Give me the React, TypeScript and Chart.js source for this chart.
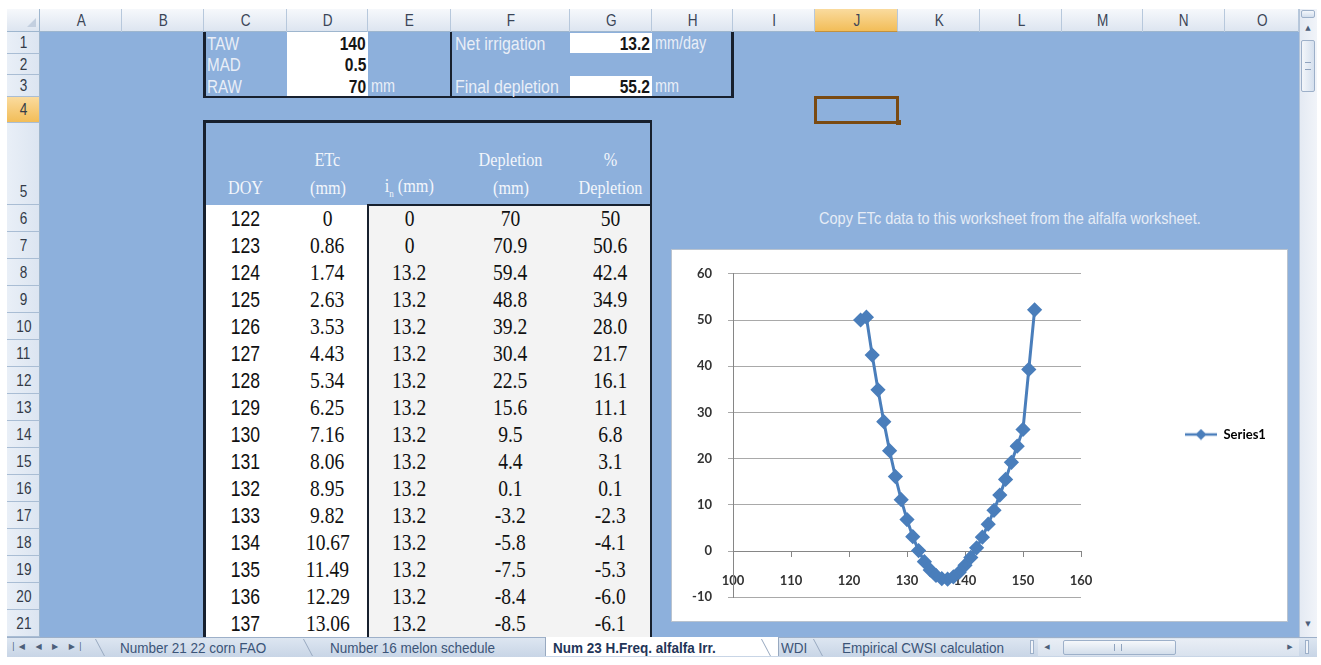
import React, { useEffect, useRef } from "react";
import { Chart, registerables } from "chart.js";

Chart.register(...registerables);

// ---------------- Chart data ----------------
const chartDoy = [122, 123, 124, 125, 126, 127, 128, 129, 130, 131, 132, 133, 134, 135, 136, 137,
  138, 139, 140, 141, 142, 143, 144, 145, 146, 147, 148, 149, 150, 151, 152];
const chartPctDepletion = [50.0, 50.6, 42.4, 34.9, 28.0, 21.7, 16.1, 11.1, 6.8, 3.1, 0.1, -2.3, -4.1, -5.3, -6.0, -6.1,
  -5.6, -4.6, -3.1, -1.4, 0.7, 3.0, 5.8, 8.8, 12.1, 15.5, 19.2, 22.7, 26.3, 39.3, 52.2];
const seriesName = "Series1";
const xMin = 100;
const xMax = 160;
const xStep = 10;
const yMin = -10;
const yMax = 60;
const yStep = 10;

// ---------------- Sheet data ----------------
const tableDoy = ["122", "123", "124", "125", "126", "127", "128", "129", "130", "131", "132", "133", "134", "135", "136", "137"];
const tableEtc = ["0", "0.86", "1.74", "2.63", "3.53", "4.43", "5.34", "6.25", "7.16", "8.06", "8.95", "9.82", "10.67", "11.49", "12.29", "13.06"];
const tableIn = ["0", "0", "13.2", "13.2", "13.2", "13.2", "13.2", "13.2", "13.2", "13.2", "13.2", "13.2", "13.2", "13.2", "13.2", "13.2"];
const tableDepletion = ["70", "70.9", "59.4", "48.8", "39.2", "30.4", "22.5", "15.6", "9.5", "4.4", "0.1", "-3.2", "-5.8", "-7.5", "-8.4", "-8.5"];
const tablePct = ["50", "50.6", "42.4", "34.9", "28.0", "21.7", "16.1", "11.1", "6.8", "3.1", "0.1", "-2.3", "-4.1", "-5.3", "-6.0", "-6.1"];
const paramLabels = ["TAW", "MAD", "RAW"];
const paramValues = ["140", "0.5", "70"];
const columnLetters = ["A", "B", "C", "D", "E", "F", "G", "H", "I", "J", "K", "L", "M", "N", "O"];
const sheetTabs = ["Number 21 22 corn FAO", "Number 16 melon schedule", "Num 23 H.Freq. alfalfa Irr.", "WDI", "Empirical CWSI calculation"];

// ---------------- Layout ----------------
const COL_X = [40, 122, 204, 287, 368, 451, 570, 652, 733, 815, 898, 980, 1062, 1143, 1225, 1299];
const ROW_Y = [32, 54, 75, 97, 123, 205];
for (let i = 1; i <= 16; i++) ROW_Y.push(205 + 27 * i);

const SANS = '"Liberation Sans", Arial, sans-serif';
const SERIF = '"Liberation Serif", "Times New Roman", serif';
const SHEET_BLUE = "#8DB0DC";
const LIGHT_TXT = "#E9EEF7";
const DARK_LINE = "#17202E";

type TxtProps = {
  x: number; y: number; w: number; h: number;
  align?: "left" | "right" | "center";
  valign?: "center" | "end";
  sx?: number;
  style?: React.CSSProperties;
  children?: React.ReactNode;
};

function Txt({ x, y, w, h, align = "left", valign = "center", sx = 0.84, style, children }: TxtProps) {
  const jc = align === "left" ? "flex-start" : align === "right" ? "flex-end" : "center";
  const origin = align === "left" ? "left center" : align === "right" ? "right center" : "center center";
  return (
    <div style={{ position: "absolute", left: x, top: y, width: w, height: h, display: "flex",
      alignItems: valign === "end" ? "flex-end" : "center", justifyContent: jc, whiteSpace: "nowrap" }}>
      <span style={{ display: "inline-block", transform: `scaleX(${sx})`, transformOrigin: origin, lineHeight: 1, ...style }}>{children}</span>
    </div>
  );
}

function Box({ x, y, w, h, style }: { x: number; y: number; w: number; h: number; style?: React.CSSProperties }) {
  return <div style={{ position: "absolute", left: x, top: y, width: w, height: h, boxSizing: "border-box", ...style }} />;
}

function makeLegendMarker(color: string): HTMLCanvasElement {
  const c = document.createElement("canvas");
  c.width = 32; c.height = 12;
  const g = c.getContext("2d")!;
  g.strokeStyle = color; g.lineWidth = 2.5;
  g.beginPath(); g.moveTo(0, 6); g.lineTo(32, 6); g.stroke();
  g.fillStyle = color;
  g.beginPath(); g.moveTo(16, 0.5); g.lineTo(21.5, 6); g.lineTo(16, 11.5); g.lineTo(10.5, 6); g.closePath(); g.fill();
  return c;
}

function DepletionChart() {
  const ref = useRef<HTMLCanvasElement>(null);
  useEffect(() => {
    if (!ref.current) return;
    const blue = "#4A7EBB";
    const marker = makeLegendMarker(blue);
    const tickFont = { family: "Lato, 'Open Sans', sans-serif", size: 13, weight: "bold" as const };
    const chart = new Chart(ref.current, {
      type: "scatter",
      data: {
        datasets: [{
          label: seriesName,
          data: chartDoy.map((d, i) => ({ x: d, y: chartPctDepletion[i] })),
          showLine: true,
          borderColor: blue,
          backgroundColor: blue,
          borderWidth: 3,
          pointStyle: "rectRot",
          pointRadius: 5.5,
          pointBackgroundColor: blue,
          pointBorderColor: blue,
          tension: 0,
        }],
      },
      options: {
        animation: false,
        responsive: false,
        maintainAspectRatio: false,
        devicePixelRatio: 1,
        layout: { padding: { left: 0, top: 18, right: 16, bottom: 20 } },
        plugins: {
          tooltip: { enabled: false },
          title: { display: false },
          legend: {
            position: "right",
            maxWidth: 190,
            labels: {
              padding: 104,
              usePointStyle: true,
              pointStyleWidth: 32,
              color: "#333333",
              font: { family: "Lato, 'Open Sans', sans-serif", size: 13, weight: "bold" },
              generateLabels: () => [{
                text: seriesName, pointStyle: marker as any, fillStyle: blue, strokeStyle: blue,
                lineWidth: 0, hidden: false, datasetIndex: 0,
              } as any],
            },
          },
        },
        scales: {
          x: {
            type: "linear",
            position: { y: 0 } as any,
            min: xMin, max: xMax,
            ticks: { stepSize: xStep, color: "#333333", font: tickFont, padding: 17, maxRotation: 0 },
            grid: { drawOnChartArea: false, drawTicks: true, tickLength: 5, color: "#868686" },
            border: { display: true, color: "#868686", width: 1 },
            afterFit: (s: any) => { s.height = 0; },
          },
          y: {
            type: "linear",
            min: yMin, max: yMax,
            ticks: { stepSize: yStep, color: "#333333", font: tickFont, padding: 16 },
            grid: { color: "#A9A9A9", lineWidth: 1, tickLength: 5 },
            border: { display: true, color: "#868686", width: 1 },
            afterFit: (s: any) => { s.width = 61; },
          },
        },
      },
    });
    return () => chart.destroy();
  }, []);
  return (
    <canvas ref={ref} width={615} height={371}
      style={{ position: "absolute", left: 672, top: 250, width: 615, height: 371 }} />
  );
}

export default function App() {
  const headerGrad = "linear-gradient(#F6F8FB, #DDE5F0)";
  const orangeGrad = "linear-gradient(#FADB9E, #F2BD58)";
  const rowHeaderBg = "linear-gradient(90deg, #E9EFF7, #DCE5F1)";
  const dataRowsTop = ROW_Y[5];

  return (
    <div style={{ position: "fixed", left: 0, top: 0, width: 1321, height: 665, background: "#FFFFFF", overflow: "hidden", fontFamily: SANS }}>
      {/* sheet background */}
      <Box x={7} y={9} w={1292} h={628} style={{ background: SHEET_BLUE }} />

      {/* column header bar */}
      <Box x={7} y={9} w={1292} h={23} style={{ background: headerGrad, borderBottom: "1px solid #9EB6CE" }} />
      <Box x={7} y={9} w={33} h={23} style={{ background: headerGrad, borderRight: "1px solid #9EB6CE", borderBottom: "1px solid #9EB6CE" }} />
      <div style={{ position: "absolute", left: 27, top: 18, width: 0, height: 0, borderLeft: "9px solid transparent", borderBottom: "9px solid #C3CFDF" }} />
      {columnLetters.map((l, i) => (
        <React.Fragment key={l}>
          <Box x={COL_X[i]} y={9} w={COL_X[i + 1] - COL_X[i]} h={23}
            style={{ background: l === "J" ? orangeGrad : "transparent", borderRight: "1px solid #B7C8DC", borderBottom: l === "J" ? "1px solid #C2913E" : undefined }} />
          <Txt x={COL_X[i]} y={9} w={COL_X[i + 1] - COL_X[i]} h={23} align="center" sx={0.85}
            style={{ fontSize: 16, color: "#3A4557" }}>{l}</Txt>
        </React.Fragment>
      ))}

      {/* row headers */}
      {ROW_Y.slice(0, 21).map((y, i) => {
        const h = ROW_Y[i + 1] - y;
        const n = i + 1;
        return (
          <React.Fragment key={n}>
            <Box x={7} y={y} w={33} h={h}
              style={{ background: n === 4 ? orangeGrad : rowHeaderBg, borderRight: "1px solid #9EB6CE", borderBottom: "1px solid #A9BDD4" }} />
            <Txt x={7} y={y} w={33} h={n === 5 ? h - 5 : h} align="center" valign={n === 5 ? "end" : "center"} sx={0.85}
              style={{ fontSize: 16, color: "#333B48" }}>{String(n)}</Txt>
          </React.Fragment>
        );
      })}

      {/* top parameter boxes */}
      <Box x={287} y={32} w={81} h={64} style={{ background: "#FFFFFF" }} />
      <Box x={570} y={33} w={82} h={20} style={{ background: "#FFFFFF" }} />
      <Box x={570} y={76} w={82} h={20} style={{ background: "#FFFFFF" }} />
      <Box x={203} y={32} w={2.5} h={66} style={{ background: DARK_LINE }} />
      <Box x={449.5} y={32} w={2.5} h={66} style={{ background: DARK_LINE }} />
      <Box x={731} y={32} w={2.5} h={66} style={{ background: DARK_LINE }} />
      <Box x={203} y={95.5} w={530.5} h={2.5} style={{ background: DARK_LINE }} />
      {paramLabels.map((lab, i) => (
        <React.Fragment key={lab}>
          <Txt x={207} y={ROW_Y[i]} w={80} h={ROW_Y[i + 1] - ROW_Y[i]} sx={0.8} style={{ fontSize: 19, color: LIGHT_TXT }}>{lab}</Txt>
          <Txt x={287} y={ROW_Y[i]} w={79} h={ROW_Y[i + 1] - ROW_Y[i]} align="right" sx={0.82} style={{ fontSize: 19, color: "#151515", fontWeight: "bold" }}>{paramValues[i]}</Txt>
        </React.Fragment>
      ))}
      <Txt x={371} y={ROW_Y[2]} w={60} h={22} sx={0.8} style={{ fontSize: 18, color: LIGHT_TXT }}>mm</Txt>
      <Txt x={455} y={ROW_Y[0]} w={115} h={22} sx={0.84} style={{ fontSize: 19, color: LIGHT_TXT }}>Net irrigation</Txt>
      <Txt x={570} y={ROW_Y[0]} w={80} h={22} align="right" sx={0.82} style={{ fontSize: 19, color: "#151515", fontWeight: "bold" }}>13.2</Txt>
      <Txt x={655} y={ROW_Y[0]} w={75} h={22} sx={0.8} style={{ fontSize: 18, color: LIGHT_TXT }}>mm/day</Txt>
      <Txt x={455} y={ROW_Y[2]} w={115} h={22} sx={0.84} style={{ fontSize: 19, color: LIGHT_TXT }}>Final depletion</Txt>
      <Txt x={570} y={ROW_Y[2]} w={80} h={22} align="right" sx={0.82} style={{ fontSize: 19, color: "#151515", fontWeight: "bold" }}>55.2</Txt>
      <Txt x={655} y={ROW_Y[2]} w={75} h={22} sx={0.8} style={{ fontSize: 18, color: LIGHT_TXT }}>mm</Txt>

      {/* main table */}
      <Box x={205} y={dataRowsTop} w={163} h={432} style={{ background: "#FFFFFF" }} />
      <Box x={368} y={dataRowsTop} w={283} h={432} style={{ background: "#F3F3F3" }} />
      <Box x={203} y={120} w={449} h={2.5} style={{ background: DARK_LINE }} />
      <Box x={203} y={120} w={2.5} h={517} style={{ background: DARK_LINE }} />
      <Box x={649.5} y={120} w={2.5} h={517} style={{ background: DARK_LINE }} />
      <Box x={366.5} y={dataRowsTop - 1} w={2.5} h={433} style={{ background: DARK_LINE }} />
      <Box x={366.5} y={dataRowsTop - 1.5} w={285} h={2.5} style={{ background: DARK_LINE }} />

      {/* header row 5 */}
      {[
        { x: COL_X[2], w: COL_X[3] - COL_X[2], l1: "", l2: "DOY" },
        { x: COL_X[3], w: COL_X[4] - COL_X[3], l1: "ETc", l2: "(mm)" },
        { x: COL_X[4], w: COL_X[5] - COL_X[4], l1: "", l2: "in" },
        { x: COL_X[5], w: COL_X[6] - COL_X[5], l1: "Depletion", l2: "(mm)" },
        { x: COL_X[6], w: 80, l1: "%", l2: "Depletion" },
      ].map((c, i) => (
        <React.Fragment key={i}>
          {c.l1 ? <Txt x={c.x} y={148} w={c.w} h={24} align="center" sx={0.9} style={{ fontFamily: SERIF, fontSize: 18, color: "#F3F6FB" }}>{c.l1}</Txt> : null}
          <Txt x={c.x} y={176} w={c.w} h={24} align="center" sx={0.9} style={{ fontFamily: SERIF, fontSize: 18, color: "#F3F6FB" }}>
            {c.l2 === "in" ? <span>i<sub style={{ fontSize: 10 }}>n</sub> (mm)</span> : c.l2}
          </Txt>
        </React.Fragment>
      ))}

      {/* data rows */}
      {tableDoy.map((d, i) => {
        const y = ROW_Y[5 + i];
        const h = 27;
        const cells = [tableEtc[i], tableIn[i], tableDepletion[i], tablePct[i]];
        return (
          <React.Fragment key={d}>
            <Txt x={COL_X[2]} y={y} w={COL_X[3] - COL_X[2]} h={h} align="center" sx={0.8} style={{ fontSize: 22, color: "#111" }}>{d}</Txt>
            {cells.map((v, j) => (
              <Txt key={j} x={COL_X[3 + j]} y={y} w={(j === 3 ? 651 : COL_X[4 + j]) - COL_X[3 + j]} h={h} align="center" sx={0.85}
                style={{ fontFamily: SERIF, fontSize: 23, color: "#111" }}>{v}</Txt>
            ))}
          </React.Fragment>
        );
      })}

      {/* selected cell J4 */}
      <Box x={814} y={96} w={85} h={28} style={{ border: "3px solid #7A4A12" }} />
      <Box x={896} y={120} w={5} h={5} style={{ background: "#7A4A12" }} />

      {/* note text */}
      <Txt x={819} y={ROW_Y[5]} w={470} h={27} sx={0.88} style={{ fontSize: 16.5, color: "#E6ECF6" }}>
        Copy ETc data to this worksheet from the alfalfa worksheet.
      </Txt>

      {/* chart */}
      <Box x={671} y={249} w={617} h={373} style={{ background: "#FFFFFF", border: "1px solid #B9C3CF" }} />
      <DepletionChart />

      {/* vertical scrollbar */}
      <Box x={1299} y={9} w={18} h={628} style={{ background: "linear-gradient(90deg,#E4EAF3,#F1F4F9)", borderLeft: "1px solid #B5C5D9" }} />
      <Box x={1301} y={10} w={14} h={8} style={{ background: "linear-gradient(#F4F7FB,#D3DEEC)", border: "1px solid #9DB0C9", borderRadius: 2 }} />
      <Txt x={1299} y={22} w={18} h={12} align="center" sx={1} style={{ fontSize: 7, color: "#4C5F7A", fontFamily: "DejaVu Sans" }}>▲</Txt>
      <Box x={1301} y={40} w={14} h={52} style={{ background: "linear-gradient(90deg,#F3F6FA,#D5E0EE)", border: "1px solid #9DB0C9", borderRadius: 2 }} />
      <Box x={1305} y={62} w={6} h={8} style={{ borderTop: "1px solid #8FA3BE", borderBottom: "1px solid #8FA3BE" }} />
      <Txt x={1299} y={618} w={18} h={12} align="center" sx={1} style={{ fontSize: 7, color: "#4C5F7A", fontFamily: "DejaVu Sans" }}>▼</Txt>

      {/* sheet tab bar */}
      <Box x={7} y={637} w={1310} h={20} style={{ background: "linear-gradient(#DDE6F1,#C8D5E6)", borderTop: "1px solid #9DB0C9" }} />
      <Txt x={12} y={638} w={70} h={18} sx={1} style={{ fontSize: 8, color: "#4C5F7A", fontFamily: "DejaVu Sans", letterSpacing: 4 }}>|◀ ◀ ▶ ▶|</Txt>
      <div style={{ position: "absolute", left: 104, top: 639, width: 16, height: 17, borderLeft: "1px solid #98A9C0", transform: "skewX(28deg)", transformOrigin: "bottom left" }} />
      <div style={{ position: "absolute", left: 312, top: 639, width: 16, height: 17, borderLeft: "1px solid #98A9C0", transform: "skewX(28deg)", transformOrigin: "bottom left" }} />
      <Box x={545} y={637} w={234} h={19} style={{ background: "#FFFFFF", borderLeft: "1px solid #98A9C0", borderRight: "1px solid #98A9C0" }} />
      <div style={{ position: "absolute", left: 770, top: 639, width: 16, height: 17, borderLeft: "1px solid #98A9C0", transform: "skewX(28deg)", transformOrigin: "bottom left" }} />
      <div style={{ position: "absolute", left: 822, top: 639, width: 16, height: 17, borderLeft: "1px solid #98A9C0", transform: "skewX(28deg)", transformOrigin: "bottom left" }} />
      <Txt x={120} y={638} w={180} h={18} sx={0.9} style={{ fontSize: 15, color: "#3B5478" }}>{sheetTabs[0]}</Txt>
      <Txt x={330} y={638} w={200} h={18} sx={0.9} style={{ fontSize: 15, color: "#3B5478" }}>{sheetTabs[1]}</Txt>
      <Txt x={553} y={638} w={225} h={18} sx={0.9} style={{ fontSize: 15, color: "#1F3558", fontWeight: "bold" }}>{sheetTabs[2]}</Txt>
      <Txt x={781} y={638} w={40} h={18} sx={0.9} style={{ fontSize: 15, color: "#3B5478" }}>{sheetTabs[3]}</Txt>
      <Txt x={842} y={638} w={190} h={18} sx={0.9} style={{ fontSize: 15, color: "#3B5478" }}>{sheetTabs[4]}</Txt>
      {/* horizontal scrollbar */}
      <Box x={1030} y={640} w={4} h={14} style={{ background: "#F1F4F9", border: "1px solid #9DB0C9" }} />
      <Box x={1038} y={639} w={261} h={17} style={{ background: "linear-gradient(#E9EEF5,#D9E2EE)" }} />
      <Txt x={1040} y={639} w={14} h={17} align="center" sx={1} style={{ fontSize: 7, color: "#4C5F7A", fontFamily: "DejaVu Sans" }}>◀</Txt>
      <Box x={1063} y={640} w={113} h={15} style={{ background: "linear-gradient(#F6F8FB,#D3DEEB)", border: "1px solid #9DB0C9", borderRadius: 2 }} />
      <Box x={1114} y={644} w={8} h={7} style={{ borderLeft: "1px solid #8FA3BE", borderRight: "1px solid #8FA3BE" }} />
      <Txt x={1283} y={639} w={14} h={17} align="center" sx={1} style={{ fontSize: 7, color: "#4C5F7A", fontFamily: "DejaVu Sans" }}>▶</Txt>
      <Box x={1305} y={640} w={4} h={14} style={{ background: "#F1F4F9", border: "1px solid #9DB0C9" }} />
    </div>
  );
}
